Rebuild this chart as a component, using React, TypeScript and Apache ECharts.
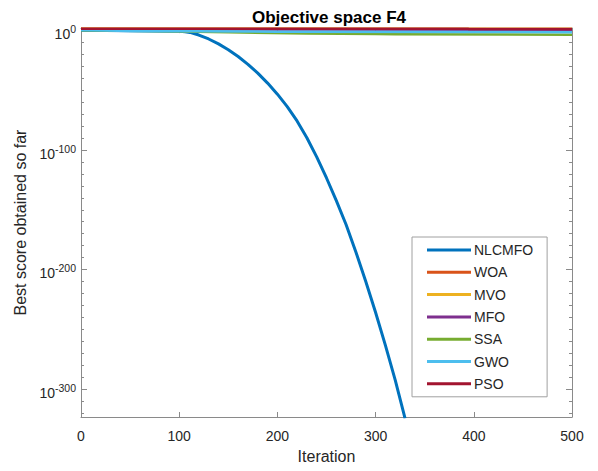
import React, { useEffect, useRef } from "react";
import * as echarts from "echarts";

const seriesNames = ["NLCMFO", "WOA", "MVO", "MFO", "SSA", "GWO", "PSO"];
const seriesColors = ["#0072BD", "#D95319", "#EDB120", "#7E2F8E", "#77AC30", "#4DBEEE", "#A2142F"];
const seriesWidths = [3, 2.5, 2.5, 2.5, 2.5, 2.5, 2.5];

// iteration / log10(best score)
const nlcmfoIter = [0, 50, 100, 106, 111, 115, 120, 130, 140, 150, 160, 170, 180, 190, 200, 210, 220, 230, 240, 250, 260, 270, 280, 290, 300, 310, 320, 330];
const nlcmfoLog = [0.3, -0.3, -0.7, -1.0, -1.6, -2.5, -3.8, -7.1, -11.2, -16.1, -21.8, -28.3, -35.7, -44, -53.3, -63.7, -75.7, -89.7, -105.7, -123.4, -142.4, -162.5, -185.5, -210, -236, -263.5, -292.5, -324.5];

const woaIter = [0, 200, 500];
const woaLog = [1.4, 1.2, 1.0];

const mvoIter = [0, 394, 500];
const mvoLog = [1.55, 1.55, 1.5];

const mfoIter = [0, 250, 500];
const mfoLog = [1.0, 0.8, 0.6];

const ssaIter = [0, 70, 150, 230, 300, 320, 500];
const ssaLog = [0.3, -0.5, -1.5, -2.5, -2.9, -3.2, -3.5];

const gwoIter = [0, 50, 200, 400, 500];
const gwoLog = [0.5, -0.5, -1.0, -1.3, -1.4];

const psoIter = [0, 394, 395, 500];
const psoLog = [1.5, 1.5, 1.25, 1.25];

const xTicks = [0, 100, 200, 300, 400, 500];
const yMajorTicks = [-300, -200, -100, 0];
const yMinorTicks = [-320, -310, -300, -290, -280, -270, -260, -250, -240, -230, -220, -210, -200, -190, -180, -170, -160, -150, -140, -130, -120, -110, -100, -90, -80, -70, -60, -50, -40, -30, -20, -10, 0];

const Y_MIN = -323.4;
const Y_MAX = 2;

const FONT = "'Liberation Sans', Arial, Helvetica, sans-serif";
const AXIS_COLOR = "#8a8a8a";
const TEXT_COLOR = "#262626";

const allIter = [nlcmfoIter, woaIter, mvoIter, mfoIter, ssaIter, gwoIter, psoIter];
const allLog = [nlcmfoLog, woaLog, mvoLog, mfoLog, ssaLog, gwoLog, psoLog];

export default function App() {
  const ref = useRef<HTMLDivElement>(null);

  useEffect(() => {
    if (!ref.current) return;
    const chart = echarts.init(ref.current, undefined, { renderer: "svg" });

    const yAxisBase = (position: "left" | "right", ticks: number[], len: number, showLine: boolean, showLabels: boolean, name?: string) => ({
      type: "value",
      min: Y_MIN,
      max: Y_MAX,
      position,
      name,
      nameLocation: "middle",
      nameGap: 53,
      nameRotate: 90,
      nameTextStyle: { fontFamily: FONT, fontSize: 16, color: TEXT_COLOR },
      splitLine: { show: false },
      axisLine: { show: showLine, onZero: false, lineStyle: { color: AXIS_COLOR, width: 1 } },
      axisTick: { show: true, inside: true, length: len, customValues: ticks, lineStyle: { color: AXIS_COLOR, width: 1 } },
      axisLabel: {
        show: showLabels,
        customValues: yMajorTicks,
        margin: 5,
        padding: [7, 0, 0, 0],
        formatter: (v: number) => `{b|10}{s|${Math.round(v)}}`,
        rich: {
          b: { fontFamily: FONT, fontSize: 14, color: TEXT_COLOR },
          s: { fontFamily: FONT, fontSize: 10.5, color: TEXT_COLOR, padding: [0, 0, 10, 0] },
        },
      },
    });

    const option: any = {
      animation: false,
      title: {
        text: "Objective space F4",
        left: 252,
        top: 9,
        padding: 0,
        textStyle: { fontFamily: FONT, fontSize: 17, fontWeight: "bold", color: "#000" },
      },
      grid: { left: 81, right: 26, top: 28.1, bottom: 54, containLabel: false },
      legend: {
        orient: "vertical",
        left: 412,
        top: 237,
        data: seriesNames,
        icon: "rect",
        itemWidth: 44,
        itemHeight: 3,
        itemGap: 6.3,
        padding: [5, 14, 5, 15],
        backgroundColor: "#fff",
        borderColor: "#a0a0a0",
        borderWidth: 1,
        borderRadius: 0,
        textStyle: { fontFamily: FONT, fontSize: 14, lineHeight: 16, color: TEXT_COLOR, padding: [0, 0, 0, -2] },
      },
      xAxis: [
        {
          type: "value",
          min: 0,
          max: 500,
          interval: 100,
          position: "bottom",
          name: "Iteration",
          nameLocation: "middle",
          nameGap: 31,
          nameTextStyle: { fontFamily: FONT, fontSize: 16, color: TEXT_COLOR },
          splitLine: { show: false },
          axisLine: { show: true, onZero: false, lineStyle: { color: AXIS_COLOR, width: 1 } },
          axisTick: { show: true, inside: true, length: 5, customValues: xTicks, lineStyle: { color: AXIS_COLOR } },
          axisLabel: { fontFamily: FONT, fontSize: 14, color: TEXT_COLOR, margin: 12, customValues: xTicks },
        },
        {
          type: "value",
          min: 0,
          max: 500,
          interval: 100,
          position: "top",
          splitLine: { show: false },
          axisLine: { show: true, onZero: false, lineStyle: { color: AXIS_COLOR, width: 1 } },
          axisTick: { show: true, inside: true, length: 5, lineStyle: { color: AXIS_COLOR } },
          axisLabel: { show: false },
        },
      ],
      yAxis: [
        yAxisBase("left", yMajorTicks, 6, true, true, "Best score obtained so far"),
        yAxisBase("left", yMinorTicks, 3, false, false),
        yAxisBase("right", yMajorTicks, 6, true, false),
        yAxisBase("right", yMinorTicks, 3, false, false),
      ],
      series: seriesNames.map((name, i) => ({
        name,
        type: "line",
        xAxisIndex: 0,
        yAxisIndex: 0,
        showSymbol: false,
        symbol: "none",
        smooth: false,
        color: seriesColors[i],
        lineStyle: { color: seriesColors[i], width: seriesWidths[i], join: "round" },
        data: allIter[i].map((t, k) => [t, allLog[i][k]]),
        z: 2 + i,
      })),
    };

    chart.setOption(option);
    return () => chart.dispose();
  }, []);

  return <div ref={ref} style={{ position: "fixed", left: 0, top: 0, width: 598, height: 471, background: "#fff" }} />;
}
